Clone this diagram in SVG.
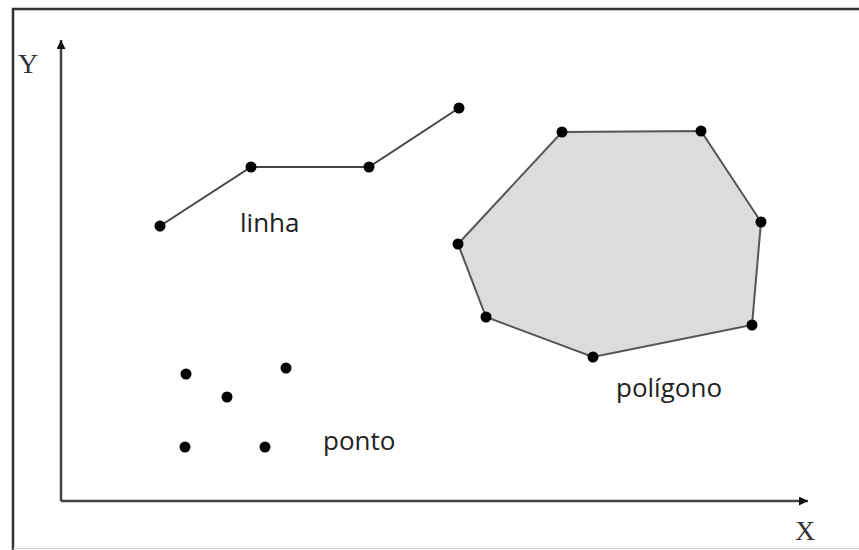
<svg xmlns="http://www.w3.org/2000/svg" width="859" height="550" viewBox="0 0 859 550">
<style>
.dot{fill:#000}
.lbl{font-family:"Open Sans","Noto Sans",sans-serif;font-size:26px;fill:#222}
.ax{font-family:"Liberation Serif",serif;font-size:28px;fill:#333}
.edge{fill:none;stroke:#444;stroke-width:2}
</style>
<defs>
<marker id="arr" viewBox="0 0 10 10" refX="10" refY="5" markerWidth="10" markerHeight="9" orient="auto" markerUnits="userSpaceOnUse">
<path d="M0,0 L10,5 L0,10 z" fill="#111"/>
</marker>
</defs>
<rect width="859" height="550" fill="#fff"/>
<path d="M13,550 V9 H859" fill="none" stroke="#333" stroke-width="2.5"/>
<line x1="13" y1="548.5" x2="859" y2="548.5" stroke="#ccc" stroke-width="1"/>
<g id="axes">
<line class="edge" x1="61" y1="501" x2="61" y2="40" marker-end="url(#arr)" style="stroke-width:2.5"/>
<line class="edge" x1="61" y1="501" x2="808" y2="501" marker-end="url(#arr)" style="stroke-width:2.5"/>
<text class="ax" x="18" y="73">Y</text>
<text class="ax" x="795" y="540">X</text>
</g>
<g id="polygon">
<polygon points="562,132 701,131 761,222 752,325 593,357 486,317 458,244" fill="#dcdcdc" stroke="#555" stroke-width="2"/>
<circle class="dot" cx="562" cy="132" r="5.5"/>
<circle class="dot" cx="701" cy="131" r="5.5"/>
<circle class="dot" cx="761" cy="222" r="5.5"/>
<circle class="dot" cx="752" cy="325" r="5.5"/>
<circle class="dot" cx="593" cy="357" r="5.5"/>
<circle class="dot" cx="486" cy="317" r="5.5"/>
<circle class="dot" cx="458" cy="244" r="5.5"/>
<text class="lbl" x="616" y="397">polígono</text>
</g>
<g id="line">
<polyline class="edge" points="160,226 251,167 369,167 459,108"/>
<circle class="dot" cx="160" cy="226" r="5.5"/>
<circle class="dot" cx="251" cy="167" r="5.5"/>
<circle class="dot" cx="369" cy="167" r="5.5"/>
<circle class="dot" cx="459" cy="108" r="5.5"/>
<text class="lbl" x="240" y="232">linha</text>
</g>
<g id="points">
<circle class="dot" cx="186" cy="374" r="5.5"/>
<circle class="dot" cx="227" cy="397" r="5.5"/>
<circle class="dot" cx="286" cy="368" r="5.5"/>
<circle class="dot" cx="185" cy="447" r="5.5"/>
<circle class="dot" cx="265" cy="447" r="5.5"/>
<text class="lbl" x="323" y="450">ponto</text>
</g>
</svg>
